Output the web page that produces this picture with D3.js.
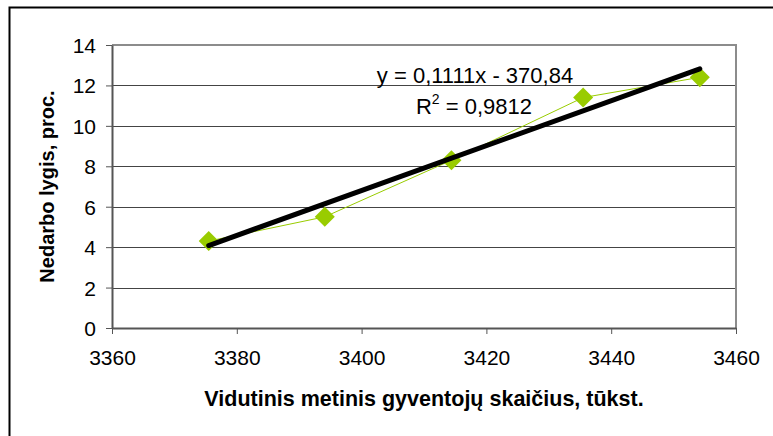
<!DOCTYPE html>
<html><head><meta charset="utf-8">
<script src="https://cdn.jsdelivr.net/npm/d3@7/dist/d3.min.js"></script>
<style>
html,body{margin:0;padding:0;background:#fff;}
svg{display:block;}
text{font-family:"Liberation Sans",Arial,sans-serif;fill:#000;}
</style></head><body>
<svg id="c" width="773" height="436"></svg>
<script>
// Data
const population = [3375.5, 3394.1, 3414.4, 3435.5, 3454.2];
const unemployment = [4.3, 5.5, 8.3, 11.4, 12.4];
const xTicks = [3360, 3380, 3400, 3420, 3440, 3460];
const yTicks = [0, 2, 4, 6, 8, 10, 12, 14];
const trendSlope = 0.1111;
const trendIntercept = -370.84;
const equationLabel = "y = 0,1111x - 370,84";
const r2Label = "0,9812";
const xTitle = "Vidutinis metinis gyventojų skaičius, tūkst.";
const yTitle = "Nedarbo lygis, proc.";

const svg = d3.select("#c");
const W = 773, H = 436;
const m = {left: 112, right: 736, top: 45, bottom: 328};

// outer frame
svg.append("rect").attr("x", 9.5).attr("y", 7.5).attr("width", W + 10).attr("height", H + 10)
  .attr("fill", "none").attr("stroke", "#000").attr("stroke-width", 2);

const x = d3.scaleLinear().domain([3360, 3460]).range([m.left, m.right]);
const y = d3.scaleLinear().domain([0, 14]).range([m.bottom, m.top]);

// gridlines
svg.append("g").selectAll("line").data(yTicks.filter(t => t > 0 && t < 14)).join("line")
  .attr("x1", m.left).attr("x2", m.right)
  .attr("y1", d => Math.round(y(d)) + 0.5).attr("y2", d => Math.round(y(d)) + 0.5)
  .attr("stroke", "#444").attr("stroke-width", 1);

// plot border (top/right)
svg.append("path")
  .attr("d", `M${m.left},${m.top} H${m.right} V${m.bottom}`)
  .attr("fill", "none").attr("stroke", "#8c8c8c").attr("stroke-width", 2);

// axes
const yAxis = d3.axisLeft(y).tickValues(yTicks).tickSize(6).tickPadding(10).tickSizeOuter(0);
const gy = svg.append("g").attr("transform", `translate(${m.left},0)`).call(yAxis);
const xAxis = d3.axisBottom(x).tickValues(xTicks).tickSize(6).tickPadding(16).tickSizeOuter(0)
  .tickFormat(d3.format("d"));
const gx = svg.append("g").attr("transform", `translate(0,${m.bottom})`).call(xAxis);
[gx, gy].forEach(g => {
  g.select(".domain").attr("stroke", "#555").attr("stroke-width", 2);
  g.selectAll(".tick line").attr("stroke", "#555").attr("stroke-width", 1);
  g.selectAll(".tick text").attr("font-family", "'Liberation Sans', Arial, sans-serif")
    .attr("font-size", 21).attr("fill", "#000");
});
gy.selectAll(".tick text").attr("dy", "0.36em");

// series line
const line = d3.line().x((d, i) => x(population[i])).y(d => y(d));
svg.append("path").datum(unemployment).attr("d", line)
  .attr("fill", "none").attr("stroke", "#99cc00").attr("stroke-width", 1);

// markers
svg.append("g").selectAll("path").data(unemployment).join("path")
  .attr("transform", (d, i) => `translate(${x(population[i])},${y(d)})`)
  .attr("d", "M0,-10L10,0L0,10L-10,0Z")
  .attr("fill", "#99cc00");

// trendline
const tx = d3.extent(population);
svg.append("line")
  .attr("x1", x(tx[0])).attr("y1", y(trendSlope * tx[0] + trendIntercept) + 2)
  .attr("x2", x(tx[1])).attr("y2", y(trendSlope * tx[1] + trendIntercept) + 2)
  .attr("stroke", "#000").attr("stroke-width", 5).attr("stroke-linecap", "round");

// equation labels
svg.append("text").attr("x", 475).attr("y", 83).attr("text-anchor", "middle")
  .attr("font-size", 22).text(equationLabel);
const r2 = svg.append("text").attr("x", 474).attr("y", 114).attr("text-anchor", "middle")
  .attr("font-size", 22);
r2.append("tspan").text("R");
r2.append("tspan").attr("dy", -10).attr("font-size", 14).text("2");
r2.append("tspan").attr("dy", 10).text(" = " + r2Label);

// axis titles
svg.append("text").attr("x", 424).attr("y", 406).attr("text-anchor", "middle")
  .attr("font-size", 21.5).attr("font-weight", "bold").text(xTitle);
svg.append("text").attr("transform", `translate(54,${(m.top + m.bottom) / 2}) rotate(-90)`)
  .attr("text-anchor", "middle").attr("font-size", 20).attr("font-weight", "bold").text(yTitle);
</script>
</body></html>
